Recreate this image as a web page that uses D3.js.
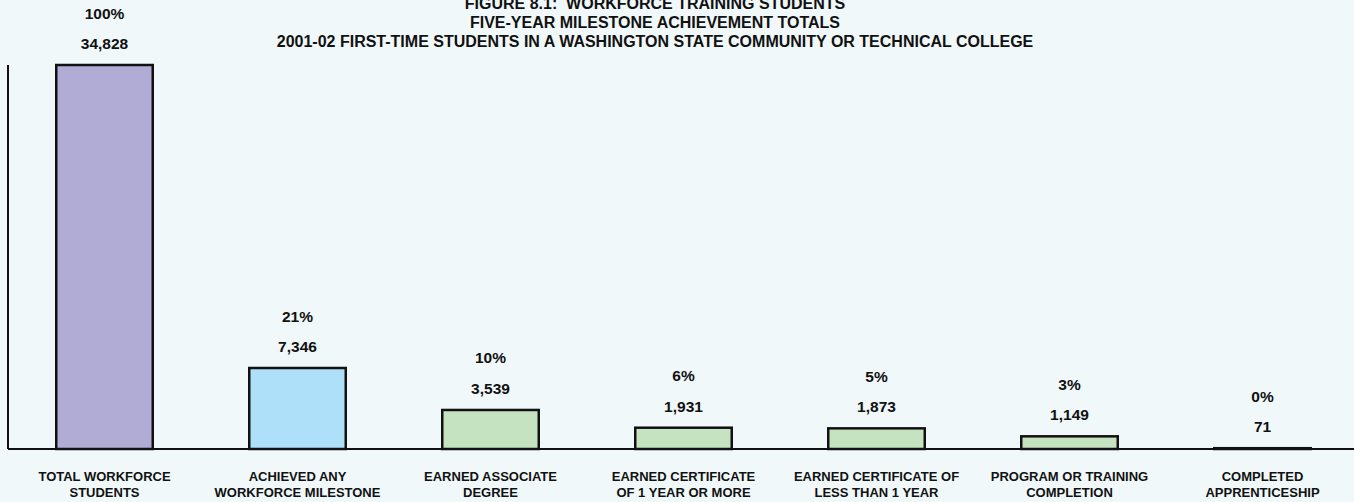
<!DOCTYPE html>
<html>
<head>
<meta charset="utf-8">
<script src="https://cdn.jsdelivr.net/npm/d3@7/dist/d3.min.js"></script>
<style>
  html, body { margin: 0; padding: 0; background: #f0f8fa; }
  svg { display: block; font-family: "Liberation Sans", Arial, sans-serif; font-weight: bold; }
</style>
</head>
<body>
<div id="chart"></div>
<script>
const categories = [
  ["TOTAL WORKFORCE", "STUDENTS"],
  ["ACHIEVED ANY", "WORKFORCE MILESTONE"],
  ["EARNED ASSOCIATE", "DEGREE"],
  ["EARNED CERTIFICATE", "OF 1 YEAR OR MORE"],
  ["EARNED CERTIFICATE OF", "LESS THAN 1 YEAR"],
  ["PROGRAM OR TRAINING", "COMPLETION"],
  ["COMPLETED", "APPRENTICESHIP"]
];
const counts = [34828, 7346, 3539, 1931, 1873, 1149, 71];
const percents = ["100%", "21%", "10%", "6%", "5%", "3%", "0%"];
const barColors = ["#b0acd6", "#aee0f9", "#c5e3c1", "#c5e3c1", "#c5e3c1", "#c5e3c1", "#c5e3c1"];
const titleLines = [
  "FIGURE 8.1:  WORKFORCE TRAINING STUDENTS",
  "FIVE-YEAR MILESTONE ACHIEVEMENT TOTALS",
  "2001-02 FIRST-TIME STUDENTS IN A WASHINGTON STATE COMMUNITY OR TECHNICAL COLLEGE"
];

var width = 1354, height = 502;
var baseY = 449, topY = 65, leftX = 8;

var svg = d3.select("#chart").append("svg")
    .attr("width", width)
    .attr("height", height);

var x = d3.scaleBand()
    .domain(d3.range(categories.length))
    .range([leftX, 1359])
    .paddingInner(0.5)
    .paddingOuter(0.25);

var y = d3.scaleLinear()
    .domain([0, d3.max(counts)])
    .range([baseY, topY]);

// title
svg.append("g").selectAll("text")
    .data(titleLines)
  .enter().append("text")
    .attr("x", 655)
    .attr("y", function(d, i) { return 9 + i * 19.2; })
    .attr("text-anchor", "middle")
    .style("font-size", "16px")
    .style("fill", "#111")
    .style("white-space", "pre")
    .text(function(d) { return d; });

// bars
svg.append("g").selectAll("rect")
    .data(counts)
  .enter().append("rect")
    .attr("x", function(d, i) { return x(i); })
    .attr("y", function(d) { return y(d); })
    .attr("width", x.bandwidth())
    .attr("height", function(d) { return baseY - y(d); })
    .style("fill", function(d, i) { return barColors[i]; })
    .style("stroke", "#111")
    .style("stroke-width", 2.5);

// axis lines
svg.append("line")
    .attr("x1", leftX).attr("x2", leftX)
    .attr("y1", y(d3.max(counts))).attr("y2", baseY)
    .style("stroke", "#111").style("stroke-width", 2);
svg.append("line")
    .attr("x1", leftX).attr("x2", width)
    .attr("y1", baseY).attr("y2", baseY)
    .style("stroke", "#111").style("stroke-width", 2);

// value labels
var labels = svg.append("g").selectAll("g")
    .data(counts)
  .enter().append("g")
    .attr("transform", function(d, i) {
      return "translate(" + (x(i) + x.bandwidth() / 2) + "," + y(d) + ")";
    });
labels.append("text")
    .attr("y", -16)
    .attr("text-anchor", "middle")
    .style("font-size", "15.5px")
    .style("fill", "#111")
    .text(function(d) { return d3.format(",")(d); });
labels.append("text")
    .attr("y", -46.5)
    .attr("text-anchor", "middle")
    .style("font-size", "15.5px")
    .style("fill", "#111")
    .text(function(d, i) { return percents[i]; });

// category labels
var cats = svg.append("g").selectAll("text")
    .data(categories)
  .enter().append("text")
    .attr("text-anchor", "middle")
    .attr("transform", function(d, i) {
      return "translate(" + (x(i) + x.bandwidth() / 2) + ",0)";
    })
    .style("font-size", "13px")
    .style("fill", "#111");
cats.selectAll("tspan")
    .data(function(d) { return d; })
  .enter().append("tspan")
    .attr("x", 0)
    .attr("y", function(d, i) { return 481 + i * 16; })
    .text(function(d) { return d; });
</script>
</body>
</html>
